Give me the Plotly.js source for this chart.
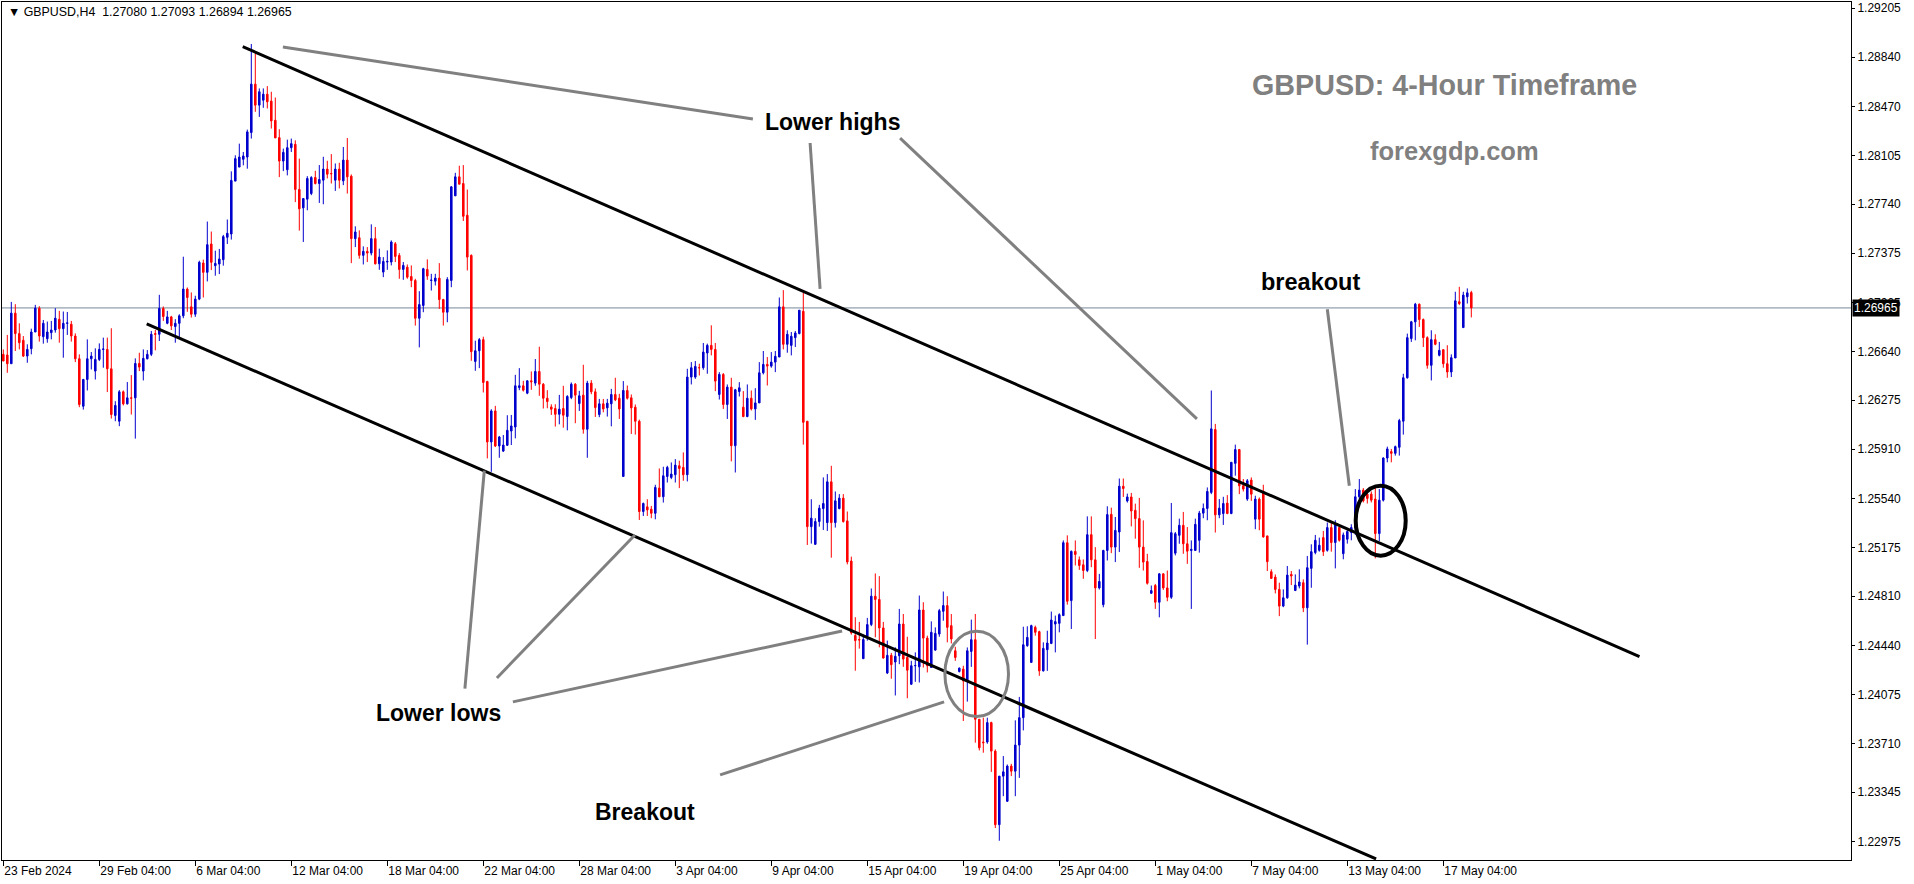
<!DOCTYPE html>
<html><head><meta charset="utf-8">
<script src="https://cdn.plot.ly/plotly-3.0.1.min.js"></script>
<style>html,body{margin:0;padding:0;background:#fff;}#chart{width:1914px;height:884px;}</style>
</head><body><div id="chart"></div>
<script>
// GBPUSD H4 candles (index 0 = first visible candle, 23 Feb 2024)
const opens = [
1.26618,1.26613,1.26548,1.26926,1.26773,1.26723,1.26605,1.26660,1.26785,1.26963,
1.26750,1.26735,1.26780,1.26800,1.26880,1.26810,1.26850,1.26843,1.26755,1.26585,
1.26230,1.26430,1.26585,1.26493,1.26580,1.26655,1.26655,1.26510,1.26161,1.26118,
1.26338,1.26248,1.26293,1.26293,1.26550,1.26493,1.26585,1.26618,1.26773,1.26768,
1.26961,1.26850,1.26898,1.26826,1.26850,1.26906,1.27106,1.26973,1.26918,1.27031,
1.27301,1.27231,1.27443,1.27281,1.27293,1.27326,1.27493,1.27518,1.27913,1.28018,
1.28076,1.28093,1.28276,1.28638,1.28481,1.28518,1.28563,1.28511,1.28368,1.28238,
1.28063,1.27998,1.28163,1.28188,1.27851,1.27713,1.27778,1.27820,1.27940,1.27895,
1.27920,1.28003,1.27970,1.27920,1.28003,1.27915,1.28070,1.27950,1.27483,1.27490,
1.27358,1.27388,1.27375,1.27483,1.27295,1.27233,1.27308,1.27308,1.27445,1.27358,
1.27253,1.27270,1.27200,1.27170,1.26888,1.26983,1.27253,1.27170,1.27165,1.27188,
1.27028,1.26933,1.27170,1.27803,1.27945,1.27895,1.27658,1.27358,1.26565,1.26645,
1.26728,1.26415,1.25963,1.26195,1.25933,1.25895,1.25938,1.26045,1.26075,1.26370,
1.26383,1.26328,1.26420,1.26403,1.26490,1.26395,1.26290,1.26225,1.26213,1.26170,
1.26213,1.26153,1.26295,1.26395,1.26250,1.26313,1.26058,1.26403,1.26338,1.26168,
1.26248,1.26218,1.26248,1.26318,1.26290,1.25705,1.26348,1.26293,1.26223,1.26118,
1.25443,1.25478,1.25460,1.25430,1.25618,1.25553,1.25705,1.25698,1.25718,1.25785,
1.25773,1.25718,1.26448,1.26448,1.26518,1.26518,1.26628,1.26685,1.26655,1.26318,
1.26468,1.26243,1.26373,1.25935,1.26340,1.26223,1.26153,1.26290,1.26210,1.26255,
1.26480,1.26543,1.26530,1.26560,1.26598,1.26973,1.26693,1.26685,1.26743,1.26773,
1.26940,1.26118,1.25330,1.25198,1.25368,1.25465,1.25360,1.25665,1.25360,1.25465,
1.25543,1.25373,1.25073,1.24516,1.24486,1.24343,1.24511,1.24598,1.24810,1.24786,
1.24573,1.24236,1.24368,1.24318,1.24365,1.24602,1.24352,1.24152,1.24290,1.24282,
1.24707,1.24497,1.24277,1.24407,1.24527,1.24697,1.24740,1.24590,1.24402,1.24247,
1.24265,1.24177,1.24397,1.24485,1.23890,1.23720,1.23720,1.23865,1.23652,1.23102,
1.23465,1.23277,1.23540,1.23502,1.23697,1.23902,1.24440,1.24315,1.24577,1.24545,
1.24252,1.24410,1.24457,1.24602,1.24607,1.24665,1.25210,1.24777,1.25145,1.25082,
1.25045,1.25002,1.25270,1.25082,1.24872,1.24747,1.25152,1.25422,1.25177,1.25290,
1.25632,1.25522,1.25552,1.25452,1.25390,1.25177,1.25070,1.24832,1.24890,1.24765,
1.24977,1.24872,1.24802,1.25132,1.25265,1.25340,1.25202,1.25152,1.25152,1.25228,
1.25431,1.25466,1.25586,1.26056,1.25418,1.25428,1.25506,1.25428,1.25803,1.25906,
1.25636,1.25536,1.25678,1.25386,1.25536,1.25593,1.25261,1.24993,1.24953,1.24861,
1.24736,1.24798,1.24973,1.24853,1.24886,1.24911,1.24723,1.25018,1.25136,1.25153,
1.25248,1.25153,1.25323,1.25211,1.25323,1.25128,1.25236,1.25286,1.25323,1.25553,
1.25603,1.25573,1.25573,1.25536,1.25278,1.25528,1.25843,1.25891,1.25878,1.25923,
1.26118,1.26443,1.26736,1.26861,1.26993,1.26878,1.26743,1.26536,1.26728,1.26611,
1.26653,1.26548,1.26486,1.26591,1.27011,1.26818,1.27048,1.27080];
const highs = [
1.26655,1.26763,1.27010,1.26993,1.26850,1.26755,1.26693,1.26810,1.26988,1.26978,
1.26875,1.26863,1.26868,1.26963,1.26943,1.26938,1.26935,1.26868,1.26775,1.26618,
1.26435,1.26730,1.26635,1.26663,1.26700,1.26743,1.26743,1.26813,1.26268,1.26351,
1.26348,1.26411,1.26463,1.26588,1.26630,1.26655,1.26650,1.26793,1.26800,1.27063,
1.26976,1.26943,1.26906,1.26881,1.26918,1.27348,1.27118,1.27081,1.27056,1.27318,
1.27326,1.27611,1.27536,1.27393,1.27406,1.27511,1.27626,1.27986,1.28106,1.28193,
1.28131,1.28298,1.28938,1.28881,1.28606,1.28606,1.28623,1.28581,1.28538,1.28301,
1.28156,1.28223,1.28231,1.28218,1.28081,1.27783,1.27950,1.27950,1.27990,1.28033,
1.28095,1.28065,1.28115,1.28045,1.28050,1.28168,1.28235,1.27963,1.27575,1.27545,
1.27425,1.27420,1.27590,1.27570,1.27408,1.27345,1.27395,1.27470,1.27458,1.27375,
1.27308,1.27290,1.27283,1.27183,1.27090,1.27265,1.27328,1.27220,1.27220,1.27300,
1.27033,1.27195,1.27875,1.27975,1.28028,1.28033,1.27850,1.27365,1.26720,1.26740,
1.26750,1.26420,1.26208,1.26233,1.26008,1.26015,1.26163,1.26165,1.26465,1.26515,
1.26420,1.26425,1.26490,1.26583,1.26675,1.26403,1.26350,1.26245,1.26245,1.26315,
1.26383,1.26313,1.26408,1.26403,1.26345,1.26540,1.26420,1.26425,1.26363,1.26285,
1.26285,1.26285,1.26360,1.26443,1.26323,1.26418,1.26385,1.26318,1.26243,1.26130,
1.25510,1.25535,1.25485,1.25643,1.25765,1.25778,1.25785,1.25810,1.25835,1.25823,
1.25885,1.26510,1.26560,1.26568,1.26548,1.26703,1.26698,1.26835,1.26703,1.26485,
1.26478,1.26393,1.26443,1.26360,1.26410,1.26343,1.26393,1.26348,1.26365,1.26560,
1.26643,1.26598,1.26635,1.26643,1.27043,1.27098,1.26798,1.26785,1.26793,1.26948,
1.27078,1.26118,1.25535,1.25393,1.25493,1.25698,1.25723,1.25785,1.25593,1.25573,
1.25573,1.25443,1.25106,1.24653,1.24618,1.24523,1.24648,1.24868,1.24980,1.24960,
1.24618,1.24478,1.24386,1.24428,1.24715,1.24677,1.24507,1.24327,1.24390,1.24815,
1.24765,1.24515,1.24622,1.24577,1.24715,1.24845,1.24810,1.24677,1.24432,1.24277,
1.24290,1.24427,1.24635,1.24677,1.23890,1.23902,1.23902,1.23872,1.23665,1.23465,
1.23615,1.23552,1.23557,1.23882,1.24057,1.24582,1.24585,1.24597,1.24590,1.24552,
1.24465,1.24552,1.24695,1.24665,1.24682,1.25227,1.25265,1.25152,1.25227,1.25107,
1.25085,1.25407,1.25407,1.25177,1.24977,1.25157,1.25482,1.25472,1.25402,1.25690,
1.25690,1.25577,1.25582,1.25502,1.25545,1.25377,1.25127,1.24890,1.24902,1.24982,
1.24982,1.25002,1.25507,1.25290,1.25390,1.25440,1.25327,1.25227,1.25390,1.25448,
1.25503,1.25623,1.26348,1.26098,1.25536,1.25553,1.25566,1.25811,1.25943,1.25911,
1.25686,1.25686,1.25698,1.25561,1.25548,1.25643,1.25261,1.25011,1.24973,1.24911,
1.24861,1.25036,1.24998,1.24973,1.25011,1.24936,1.25111,1.25198,1.25268,1.25248,
1.25298,1.25361,1.25361,1.25378,1.25336,1.25286,1.25318,1.25348,1.25611,1.25686,
1.25618,1.25603,1.25593,1.25628,1.25611,1.25848,1.25928,1.25911,1.25936,1.26136,
1.26473,1.26773,1.26868,1.27003,1.26998,1.26886,1.26753,1.26798,1.26768,1.26711,
1.26653,1.26686,1.26618,1.27086,1.27123,1.27086,1.27111,1.27093];
const lows = [
1.26568,1.26480,1.26548,1.26643,1.26655,1.26598,1.26555,1.26618,1.26785,1.26713,
1.26698,1.26705,1.26730,1.26780,1.26705,1.26593,1.26763,1.26713,1.26560,1.26223,
1.26205,1.26348,1.26505,1.26430,1.26568,1.26518,1.26336,1.26138,1.26118,1.26081,
1.26236,1.26243,1.26168,1.25988,1.26493,1.26423,1.26580,1.26605,1.26648,1.26718,
1.26868,1.26843,1.26800,1.26705,1.26748,1.26888,1.26936,1.26893,1.26898,1.27023,
1.27043,1.27163,1.27248,1.27206,1.27218,1.27281,1.27443,1.27476,1.27913,1.28018,
1.28031,1.28006,1.28231,1.28431,1.28393,1.28461,1.28456,1.28306,1.28236,1.27943,
1.27988,1.27956,1.28131,1.27756,1.27543,1.27458,1.27695,1.27808,1.27888,1.27750,
1.27740,1.27933,1.27895,1.27840,1.27858,1.27883,1.27820,1.27300,1.27420,1.27333,
1.27290,1.27308,1.27358,1.27290,1.27250,1.27195,1.27250,1.27283,1.27308,1.27183,
1.27175,1.27183,1.27120,1.26833,1.26670,1.26933,1.27175,1.27095,1.27133,1.26958,
1.26833,1.26858,1.27120,1.27803,1.27890,1.27615,1.27245,1.26570,1.26495,1.26515,
1.26333,1.25840,1.25740,1.25925,1.25845,1.25888,1.25933,1.25940,1.25990,1.26350,
1.26340,1.26320,1.26353,1.26383,1.26308,1.26213,1.26215,1.26165,1.26078,1.26095,
1.26070,1.26050,1.26283,1.26103,1.26195,1.26025,1.25845,1.26320,1.26150,1.26148,
1.26185,1.26153,1.26080,1.26268,1.26135,1.25705,1.26280,1.26023,1.26018,1.25380,
1.25410,1.25410,1.25393,1.25385,1.25553,1.25510,1.25660,1.25685,1.25660,1.25618,
1.25673,1.25668,1.26393,1.26435,1.26460,1.26503,1.26473,1.26610,1.26343,1.26280,
1.26210,1.26135,1.25818,1.25735,1.26303,1.26148,1.26148,1.26198,1.26128,1.26255,
1.26468,1.26385,1.26518,1.26485,1.26598,1.26655,1.26630,1.26610,1.26673,1.26768,
1.25943,1.25193,1.25203,1.25193,1.25330,1.25305,1.25298,1.25098,1.25323,1.25460,
1.25360,1.25048,1.24523,1.24253,1.24418,1.24343,1.24478,1.24586,1.24503,1.24428,
1.24343,1.24228,1.24193,1.24068,1.24302,1.24282,1.24047,1.24147,1.24170,1.24165,
1.24277,1.24240,1.24277,1.24402,1.24507,1.24627,1.24465,1.24457,1.24327,1.24240,
1.23877,1.24022,1.24282,1.23715,1.23657,1.23640,1.23707,1.23497,1.23077,1.22982,
1.23315,1.23272,1.23465,1.23315,1.23452,1.23807,1.24432,1.24315,1.24515,1.24215,
1.24247,1.24252,1.24452,1.24390,1.24540,1.24665,1.24747,1.24565,1.25040,1.25007,
1.24940,1.24990,1.25027,1.24490,1.24860,1.24727,1.25077,1.25132,1.25065,1.25140,
1.25552,1.25510,1.25332,1.25240,1.25022,1.25002,1.24897,1.24827,1.24715,1.24652,
1.24857,1.24772,1.24790,1.25115,1.25202,1.25127,1.25052,1.24715,1.25152,1.25136,
1.25393,1.25378,1.25573,1.25286,1.25393,1.25343,1.25423,1.25423,1.25711,1.25573,
1.25593,1.25523,1.25523,1.25311,1.25303,1.25248,1.24998,1.24941,1.24831,1.24661,
1.24728,1.24791,1.24893,1.24848,1.24868,1.24691,1.24448,1.24873,1.25123,1.25143,
1.25111,1.25143,1.25143,1.25018,1.25218,1.25086,1.25203,1.25228,1.25268,1.25536,
1.25511,1.25503,1.25511,1.25093,1.25223,1.25518,1.25811,1.25811,1.25861,1.25861,
1.26018,1.26436,1.26711,1.26723,1.26823,1.26673,1.26511,1.26423,1.26686,1.26603,
1.26518,1.26443,1.26448,1.26591,1.26986,1.26818,1.26998,1.26894];
const closes = [
1.26568,1.26548,1.26926,1.26773,1.26705,1.26605,1.26655,1.26785,1.26963,1.26755,
1.26850,1.26785,1.26800,1.26888,1.26810,1.26850,1.26853,1.26755,1.26585,1.26243,
1.26430,1.26585,1.26605,1.26580,1.26655,1.26658,1.26510,1.26168,1.26236,1.26338,
1.26248,1.26293,1.26290,1.26550,1.26523,1.26588,1.26618,1.26768,1.26768,1.26961,
1.26901,1.26898,1.26831,1.26850,1.26906,1.27106,1.27043,1.26918,1.27031,1.27306,
1.27231,1.27438,1.27306,1.27298,1.27331,1.27498,1.27523,1.27918,1.28081,1.28093,
1.28101,1.28281,1.28638,1.28481,1.28581,1.28563,1.28506,1.28363,1.28236,1.28063,
1.28128,1.28163,1.28193,1.27851,1.27706,1.27783,1.27933,1.27940,1.27895,1.27925,
1.28003,1.27965,1.27968,1.28003,1.27920,1.28070,1.27945,1.27483,1.27533,1.27358,
1.27388,1.27375,1.27483,1.27295,1.27345,1.27313,1.27313,1.27458,1.27350,1.27253,
1.27283,1.27195,1.27170,1.26888,1.26990,1.27258,1.27203,1.27173,1.27188,1.27028,
1.26933,1.27178,1.27870,1.27945,1.27890,1.27650,1.27345,1.26638,1.26645,1.26728,
1.26408,1.25963,1.26195,1.25933,1.26000,1.25940,1.26050,1.26083,1.26383,1.26383,
1.26350,1.26420,1.26413,1.26490,1.26395,1.26290,1.26265,1.26208,1.26170,1.26208,
1.26163,1.26303,1.26395,1.26313,1.26308,1.26058,1.26403,1.26338,1.26220,1.26248,
1.26210,1.26253,1.26318,1.26278,1.26210,1.26348,1.26290,1.26218,1.26118,1.25443,
1.25503,1.25455,1.25430,1.25623,1.25553,1.25710,1.25773,1.25723,1.25790,1.25765,
1.25718,1.26448,1.26518,1.26528,1.26518,1.26635,1.26685,1.26655,1.26418,1.26468,
1.26243,1.26373,1.25935,1.26353,1.26368,1.26153,1.26290,1.26210,1.26255,1.26480,
1.26543,1.26530,1.26560,1.26603,1.26973,1.26693,1.26768,1.26753,1.26778,1.26948,
1.26110,1.25330,1.25393,1.25368,1.25468,1.25503,1.25665,1.25360,1.25523,1.25543,
1.25368,1.25066,1.24536,1.24478,1.24483,1.24486,1.24598,1.24810,1.24786,1.24573,
1.24348,1.24368,1.24298,1.24361,1.24602,1.24340,1.24257,1.24290,1.24292,1.24707,
1.24497,1.24290,1.24540,1.24532,1.24702,1.24740,1.24577,1.24490,1.24352,1.24272,
1.24177,1.24402,1.24485,1.23890,1.23677,1.23715,1.23865,1.23652,1.23102,1.23465,
1.23497,1.23540,1.23502,1.23697,1.23902,1.24447,1.24502,1.24590,1.24540,1.24252,
1.24420,1.24460,1.24632,1.24620,1.24672,1.25210,1.24772,1.25145,1.25122,1.25040,
1.25002,1.25270,1.25082,1.24872,1.24920,1.25152,1.25420,1.25177,1.25302,1.25632,
1.25615,1.25552,1.25447,1.25390,1.25177,1.25065,1.24907,1.24852,1.24765,1.24977,
1.24872,1.24802,1.25285,1.25277,1.25340,1.25202,1.25147,1.25160,1.25347,1.25431,
1.25466,1.25593,1.26061,1.25418,1.25468,1.25503,1.25428,1.25811,1.25906,1.25636,
1.25611,1.25673,1.25573,1.25536,1.25386,1.25253,1.25068,1.24943,1.24861,1.24736,
1.24798,1.24968,1.24961,1.24893,1.24916,1.24723,1.25023,1.25143,1.25228,1.25191,
1.25143,1.25323,1.25211,1.25343,1.25228,1.25268,1.25293,1.25323,1.25553,1.25603,
1.25523,1.25541,1.25528,1.25278,1.25528,1.25843,1.25911,1.25878,1.25928,1.26123,
1.26443,1.26743,1.26861,1.26993,1.26878,1.26743,1.26536,1.26728,1.26693,1.26648,
1.26548,1.26486,1.26593,1.27018,1.26998,1.27061,1.27078,1.26965];

const xTickIdx = [0,24,48,72,96,120,144,168,192,216,240,264,288,312,336,360];
const xTickLabels = ['23 Feb 2024','29 Feb 04:00','6 Mar 04:00','12 Mar 04:00','18 Mar 04:00',
  '22 Mar 04:00','28 Mar 04:00','3 Apr 04:00','9 Apr 04:00','15 Apr 04:00','19 Apr 04:00',
  '25 Apr 04:00','1 May 04:00','7 May 04:00','13 May 04:00','17 May 04:00'];
const yTickVals = [1.29205,1.28840,1.28470,1.28105,1.27740,1.27375,1.27005,1.26640,1.26275,
  1.25910,1.25540,1.25175,1.24810,1.24440,1.24075,1.23710,1.23345,1.22975];
const header = {symbol:'GBPUSD,H4', o:1.27080, h:1.27093, l:1.26894, c:1.26965};
const lastPrice = closes[closes.length-1];

const idx = opens.map((_, i) => i);

const trace = {
  type:'candlestick', x:idx, open:opens, high:highs, low:lows, close:closes,
  increasing:{line:{color:'#0000CD', width:1}, fillcolor:'#0000CD'},
  decreasing:{line:{color:'#FF0000', width:1}, fillcolor:'#FF0000'},
  whiskerwidth:0, hoverinfo:'skip', showlegend:false
};

const lineBlack = {color:'#000', width:3};
const lineGray = {color:'#808080', width:3};
const L = (x0,y0,x1,y1,line) => ({type:'line', xref:'x', yref:'y', x0, y0, x1, y1, line});

const shapes = [
  {type:'line', xref:'paper', x0:0, x1:1, yref:'y', y0:lastPrice, y1:lastPrice,
   line:{color:'#778899', width:1}, layer:'below'},
  L(59.85,1.28918,409.05,1.24359,lineBlack),
  L(35.85,1.26845,343.2,1.22846,lineBlack),
  L(69.9,1.28916,187.4,1.28377,lineGray),
  L(201.7,1.28198,204.2,1.27107,lineGray),
  L(224.2,1.28235,298.4,1.26135,lineGray),
  L(331.0,1.26955,336.5,1.25636,lineGray),
  L(120.25,1.25749,115.4,1.24120,lineGray),
  L(157.9,1.25268,123.4,1.24199,lineGray),
  L(127.4,1.24020,209.7,1.24550,lineGray),
  L(179.2,1.23474,235.2,1.24020,lineGray),
  {type:'circle', xref:'x', yref:'y', x0:235.4, x1:251.3, y0:1.23910, y1:1.24548,
   line:{color:'#808080', width:3}},
  {type:'circle', xref:'x', yref:'y', x0:338.1, x1:350.6, y0:1.25113, y1:1.25636,
   line:{color:'#000', width:4}}
];

const bold = 'Liberation Sans, Arial, sans-serif';
const T = (x,y,text,size,color) => ({xref:'x', yref:'y', x, y, text:'<b>'+text+'</b>', showarrow:false,
  xanchor:'center', yanchor:'middle', font:{family:bold, size, color}});

const annotations = [
  T(360.2,1.28632,'GBPUSD: 4-Hour Timeframe',28.7,'#808080'),
  T(362.7,1.28138,'forexgdp.com',25.5,'#808080'),
  T(207.4,1.28355,'Lower highs',23,'#000'),
  T(326.9,1.27159,'breakout',23.5,'#000'),
  T(108.7,1.23937,'Lower lows',23,'#000'),
  T(160.4,1.23197,'Breakout',23,'#000'),
  {xref:'paper', yref:'paper', x:0.0022, y:0.9878, xanchor:'left', yanchor:'middle', showarrow:false,
   text:'\u25BC\u00a0'+header.symbol+'\u00a0\u00a0'+[header.o,header.h,header.l,header.c].map(v=>v.toFixed(5)).join(' '),
   font:{family:'Liberation Sans, Arial, sans-serif', size:12.4, color:'#000'}},
  {xref:'paper', x:1, xanchor:'left', xshift:1, yref:'y', y:lastPrice, yanchor:'middle', showarrow:false,
   text:lastPrice.toFixed(5), bgcolor:'#000', borderpad:1,
   font:{family:'Liberation Sans, Arial, sans-serif', size:12, color:'#fff'}}
];

const layout = {
  width:1914, height:884,
  margin:{l:2, r:63, t:2, b:24, pad:0},
  paper_bgcolor:'#fff', plot_bgcolor:'#fff',
  showlegend:false, boxgap:0.45, dragmode:false,
  font:{family:'Liberation Sans, Arial, sans-serif', size:12, color:'#000'},
  xaxis:{range:[-0.325,461.925], rangeslider:{visible:false}, showgrid:false, zeroline:false,
    tickmode:'array', tickvals:xTickIdx, ticktext:xTickLabels, ticks:'outside', ticklen:5,
    tickcolor:'#000', ticklabelposition:'outside right', showline:true, mirror:true,
    linecolor:'#000', linewidth:1, tickfont:{size:12, color:'#000'}, fixedrange:true},
  yaxis:{side:'right', range:[1.22838,1.29252], showgrid:false, zeroline:false,
    tickmode:'array', tickvals:yTickVals, ticktext:yTickVals.map(v=>v.toFixed(5)),
    ticks:'outside', ticklen:3, tickcolor:'#000', showline:true, mirror:true,
    linecolor:'#000', linewidth:1, tickfont:{size:12, color:'#000'}, fixedrange:true},
  shapes, annotations
};

Plotly.newPlot('chart', [trace], layout, {displayModeBar:false, staticPlot:true});
</script>
</body></html>
